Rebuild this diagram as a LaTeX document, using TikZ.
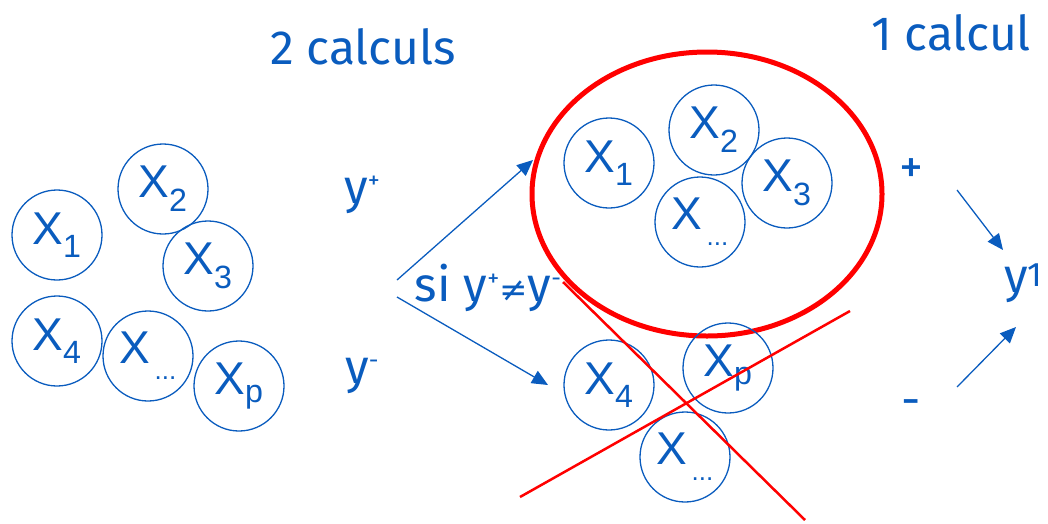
\documentclass[tikz,border=0pt]{standalone}
\usepackage{fontspec}
\setmainfont{Liberation Sans}
\newfontfamily\comic{Fira Sans}
\newfontfamily\dejavu{DejaVu Sans}
\usetikzlibrary{arrows.meta}
\definecolor{cblue}{HTML}{0A5CBE}
\definecolor{cred}{HTML}{FF0000}
\newcommand{\supp}[1]{\raisebox{0.32em}{\fontsize{24}{24}\selectfont #1}}
\begin{document}
\begin{tikzpicture}[x=1pt,y=-1pt,
  xc/.style={circle,draw=cblue,line width=1.3pt,minimum size=90pt,inner sep=0pt,text=cblue,font=\fontsize{46}{46}\selectfont},
  lbl/.style={text=cblue,font=\comic\fontsize{48}{50}\selectfont,inner sep=0pt},
  arr/.style={draw=cblue,line width=1.3pt,-{Triangle[length=16pt,width=14pt]}},
  cross/.style={draw=cred,line width=2.5pt}]
\useasboundingbox (0,0) rectangle (1048,523);
% left group
\node[xc] (a1) at (57,235) {X$_{\mathrm{1}}$};
\node[xc] (a2) at (163,189) {X$_{\mathrm{2}}$};
\node[xc] (a3) at (208,266) {X$_{\mathrm{3}}$};
\node[xc] (a4) at (57,341) {X$_{\mathrm{4}}$};
\node[xc] (a5) at (148,356) {X\raisebox{-0.35em}{\fontsize{26}{26}\selectfont\,...}};
\node[xc] (a6) at (239,386) {X$_{\mathrm{p}}$};
% titles
\node[lbl] (t1) at (363,47) {2 calculs};
\node[lbl] (t2) at (951,33) {1 calcul};
\node[lbl] (yp) at (362,195) {y\supp{+}};
\node[lbl] (ym) at (362,376) {y\supp{-}};
\node[lbl] (si) at (488,288) {si y\supp{+}{\dejavu\fontsize{34}{34}\selectfont ≠}y\supp{-}};
\node[lbl] (pl) at (911,171) {+};
\node[lbl] (mi) at (911,408) {-};
\node[lbl,anchor=west] (y1) at (1004,283) {y\raisebox{0.12em}{\fontsize{34}{34}\selectfont 1}};
% arrows
\coordinate (s1) at (397,280);
\coordinate (s2) at (397,297);
\coordinate (e1) at (533,160);
\coordinate (e2) at (548,385);
\draw[arr] (s1) -- (e1);
\draw[arr] (s2) -- (e2);
\coordinate (p1) at (957,190);
\coordinate (p2) at (1003,250);
\coordinate (m1) at (957,387);
\coordinate (m2) at (1016,327);
\draw[arr] (p1) -- (p2);
\draw[arr] (m1) -- (m2);
% top right group
\draw[draw=cred,line width=5pt] (707,194) ellipse [x radius=175, y radius=142];
\node[xc] (b1) at (609,163) {X$_{\mathrm{1}}$};
\node[xc] (b2) at (714,130) {X$_{\mathrm{2}}$};
\node[xc] (b3) at (787,183) {X$_{\mathrm{3}}$};
\node[xc] (b5) at (700,222) {X\raisebox{-0.35em}{\fontsize{26}{26}\selectfont\,...}};
% bottom right group
\node[xc] (c4) at (609,385) {X$_{\mathrm{4}}$};
\node[xc] (c6) at (728,368) {X$_{\mathrm{p}}$};
\node[xc] (c5) at (685,457) {X\raisebox{-0.35em}{\fontsize{26}{26}\selectfont\,...}};
\coordinate (r1a) at (520,497);
\coordinate (r1b) at (850,311);
\coordinate (r2a) at (563,282);
\coordinate (r2b) at (805,520);
\draw[cross] (r1a) -- (r1b);
\draw[cross] (r2a) -- (r2b);
\end{tikzpicture}
\end{document}
